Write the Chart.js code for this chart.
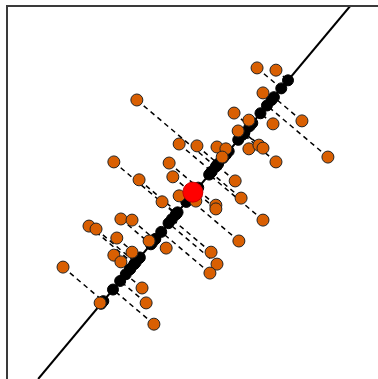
<!DOCTYPE html>
<html>
<head>
<meta charset="utf-8">
<script src="https://cdn.jsdelivr.net/npm/chart.js@4"></script>
<style>
  body { margin: 0; background: #fff; }
  canvas { display: block; }
</style>
</head>
<body>
<canvas id="chart" width="378" height="379"></canvas>
<script>
// Observed samples (orange)
const sampleX = [6.74, 7.25, 6.90, 3.50, 6.12, 6.52, 6.23, 7.95, 7.17, 4.64,
                 5.12, 5.66, 5.90, 5.80, 6.52, 6.79, 6.90, 7.25, 8.65, 4.37,
                 2.88, 4.47, 3.56, 6.15, 4.64, 5.09, 6.31, 4.18, 5.63, 5.63,
                 6.90, 3.07, 3.37, 2.21, 2.40, 2.96, 3.83, 6.25, 4.29, 3.37,
                 2.88, 5.50, 3.07, 5.66, 1.51, 5.47, 3.64, 2.51, 3.75, 3.96];
const sampleY = [8.34, 8.28, 7.67, 7.48, 7.13, 6.94, 6.65, 6.92, 6.84, 6.30,
                 6.25, 6.22, 6.17, 5.95, 6.17, 6.27, 6.19, 5.82, 5.95, 5.79,
                 5.82, 5.42, 5.34, 5.31, 4.91, 4.77, 4.85, 4.75, 4.66, 4.56,
                 4.26, 4.29, 4.26, 4.10, 4.02, 3.78, 3.70, 3.70, 3.51, 3.40,
                 3.32, 3.40, 3.14, 3.08, 3.00, 2.84, 2.44, 2.04, 2.04, 1.47];
// Mean (red)
const meanX = [5.01];
const meanY = [5.01];
// Principal axis: two points where it crosses the frame
const axisX = [0.84, 9.25];
const axisY = [0, 10];

const samples = sampleX.map((x, i) => ({x: x, y: sampleY[i]}));

// orthogonal projection of each sample onto the axis
const dx = axisX[1] - axisX[0];
const dy = axisY[1] - axisY[0];
const len = Math.sqrt(dx * dx + dy * dy);
const ux = dx / len, uy = dy / len;
const projected = samples.map(p => {
    const t = (p.x - axisX[0]) * ux + (p.y - axisY[0]) * uy;
    return {x: axisX[0] + t * ux, y: axisY[0] + t * uy};
});

// dashed connectors, broken by nulls
const connectors = [];
samples.forEach((p, i) => {
    connectors.push(p, projected[i], {x: null, y: null});
});

const framePlugin = {
    id: 'frame',
    afterDraw(chart) {
        const a = chart.chartArea;
        const c = chart.ctx;
        c.save();
        c.strokeStyle = '#3a3a3a';
        c.lineWidth = 2;
        c.beginPath();
        c.moveTo(a.left, a.bottom + 2);
        c.lineTo(a.left, a.top);
        c.lineTo(a.right + 2, a.top);
        c.stroke();
        c.restore();
    }
};

new Chart(document.getElementById('chart').getContext('2d'), {
    type: 'scatter',
    data: {
        datasets: [
            {
                label: 'mean',
                data: meanX.map((x, i) => ({x: x, y: meanY[i]})),
                backgroundColor: '#ff0000',
                borderColor: '#cc0000',
                borderWidth: 1,
                pointRadius: 10,
                order: 0
            },
            {
                label: 'samples',
                data: samples,
                backgroundColor: '#d95f02',
                borderColor: '#222',
                borderWidth: 1,
                pointRadius: 6,
                order: 1
            },
            {
                label: 'projections',
                data: projected,
                backgroundColor: '#000',
                borderColor: '#000',
                borderWidth: 1,
                pointRadius: 5.5,
                order: 2
            },
            {
                label: 'axis',
                data: axisX.map((x, i) => ({x: x, y: axisY[i]})),
                showLine: true,
                borderColor: '#000',
                borderWidth: 2,
                pointRadius: 0,
                order: 3
            },
            {
                label: 'connectors',
                data: connectors,
                showLine: true,
                spanGaps: false,
                borderColor: '#000',
                borderWidth: 1.5,
                borderDash: [5, 4],
                pointRadius: 0,
                order: 4
            }
        ]
    },
    options: {
        responsive: false,
        animation: false,
        layout: { autoPadding: false, padding: { left: 7, top: 6, right: 0, bottom: 0 } },
        plugins: { legend: { display: false }, tooltip: { enabled: false } },
        scales: {
            x: { display: false, min: 0, max: 10 },
            y: { display: false, min: 0, max: 10 }
        }
    },
    plugins: [framePlugin]
});
</script>
</body>
</html>
